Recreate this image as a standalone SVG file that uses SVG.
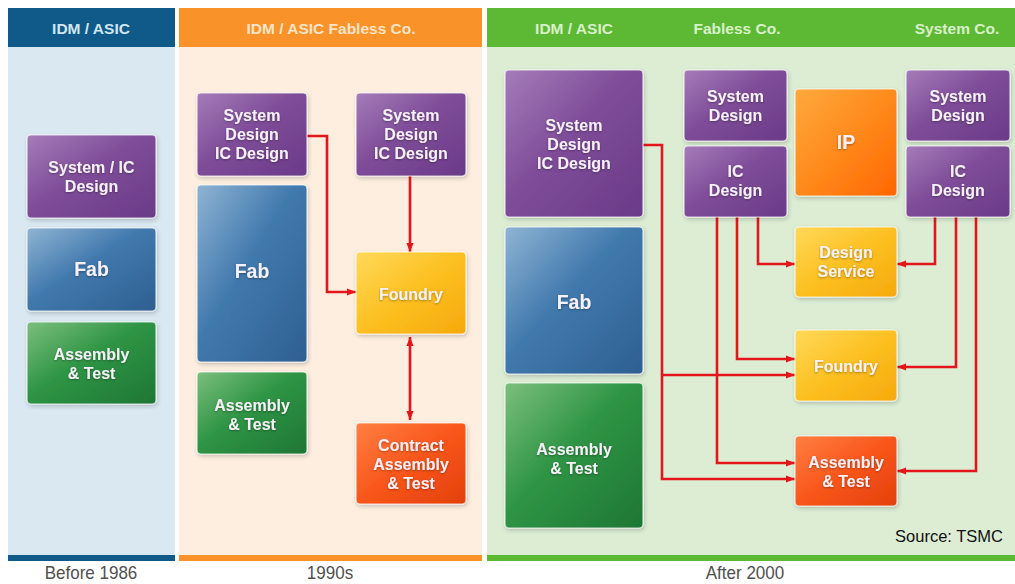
<svg xmlns="http://www.w3.org/2000/svg" width="1015" height="584" viewBox="0 0 1015 584">
  <defs>
    <linearGradient id="gPurple" x1="0" y1="0" x2="1" y2="1">
      <stop offset="0" stop-color="#a57cb9"/>
      <stop offset="0.45" stop-color="#7f4d99"/>
      <stop offset="1" stop-color="#6a3a88"/>
    </linearGradient>
    <linearGradient id="gBlue" x1="0" y1="0" x2="1" y2="1">
      <stop offset="0" stop-color="#8fb4d4"/>
      <stop offset="0.45" stop-color="#4179ad"/>
      <stop offset="1" stop-color="#2e5f91"/>
    </linearGradient>
    <linearGradient id="gGreen" x1="0" y1="0" x2="1" y2="1">
      <stop offset="0" stop-color="#7cbf7d"/>
      <stop offset="0.45" stop-color="#2f9545"/>
      <stop offset="1" stop-color="#1e7634"/>
    </linearGradient>
    <linearGradient id="gYellow" x1="0" y1="0" x2="1" y2="1">
      <stop offset="0" stop-color="#ffd95a"/>
      <stop offset="0.5" stop-color="#fcc021"/>
      <stop offset="1" stop-color="#f6a90c"/>
    </linearGradient>
    <linearGradient id="gOrange" x1="0" y1="0" x2="1" y2="1">
      <stop offset="0" stop-color="#ffa93e"/>
      <stop offset="0.5" stop-color="#ff8a1c"/>
      <stop offset="1" stop-color="#ff6600"/>
    </linearGradient>
    <linearGradient id="gRed" x1="0" y1="0" x2="1" y2="1">
      <stop offset="0" stop-color="#ff7f42"/>
      <stop offset="0.5" stop-color="#f9561b"/>
      <stop offset="1" stop-color="#e2400b"/>
    </linearGradient>
    <filter id="boxShadow" x="-10%" y="-10%" width="125%" height="125%">
      <feDropShadow dx="1" dy="2" stdDeviation="2" flood-color="#000" flood-opacity="0.2"/>
    </filter>
    <filter id="txtShadow" x="-10%" y="-30%" width="120%" height="160%">
      <feDropShadow dx="0" dy="1" stdDeviation="1.2" flood-color="#000" flood-opacity="0.35"/>
    </filter>
    <marker id="ah" viewBox="0 0 10 10" refX="10" refY="5" markerWidth="9" markerHeight="9" markerUnits="userSpaceOnUse" orient="auto-start-reverse">
      <path d="M0,1 L10,5 L0,9 z" fill="#e3161b"/>
    </marker>
  </defs>
  <style>
    .box { stroke: #ffffff; stroke-opacity: 0.75; stroke-width: 1.2; filter: url(#boxShadow); }
    .purple { fill: url(#gPurple); }
    .blue { fill: url(#gBlue); }
    .green { fill: url(#gGreen); }
    .yellow { fill: url(#gYellow); }
    .orange { fill: url(#gOrange); }
    .red { fill: url(#gRed); }
    .lbl { font-family: "Liberation Sans", Arial, sans-serif; font-weight: bold; font-size: 16px; fill: #f6f1f8; text-anchor: middle; filter: url(#txtShadow); }
    .big { font-size: 19.5px; }
    .hdr { font-family: "Liberation Sans", Arial, sans-serif; font-weight: bold; font-size: 15.5px; text-anchor: middle; }
    .era { font-family: "Liberation Sans Narrow", "Liberation Sans", Arial, sans-serif; font-size: 17px; fill: #505050; text-anchor: middle; }
    .wire { fill: none; stroke: #e3161b; stroke-width: 2.6; }
  </style>

  <rect width="1015" height="584" fill="#ffffff"/>

  <!-- column panels -->
  <g id="panels">
    <rect x="8" y="47" width="167" height="508" fill="#d9e8f1"/>
    <rect x="179" y="47" width="303" height="508" fill="#fdeedf"/>
    <rect x="487" y="47" width="528" height="508" fill="#dcedd4"/>
    <rect x="8" y="8" width="167" height="39" fill="#0f5a88"/>
    <rect x="179" y="8" width="303" height="39" fill="#f89229"/>
    <rect x="487" y="8" width="528" height="39" fill="#5db933"/>
    <rect x="8" y="555" width="167" height="6" fill="#0f5a88"/>
    <rect x="179" y="555" width="303" height="6" fill="#f89229"/>
    <rect x="487" y="555" width="528" height="6" fill="#5db933"/>
  </g>

  <g id="headers">
    <text class="hdr" x="91" y="34" fill="#d3e5f0">IDM / ASIC</text>
    <text class="hdr" x="331" y="34" fill="#fde4c8">IDM / ASIC Fabless Co.</text>
    <text class="hdr" x="574" y="34" fill="#d8f0c9">IDM / ASIC</text>
    <text class="hdr" x="737" y="34" fill="#d8f0c9">Fabless Co.</text>
    <text class="hdr" x="957" y="34" fill="#d8f0c9">System Co.</text>
  </g>

  <g id="eras">
    <text class="era" x="91" y="579" transform="translate(91 579) scale(1 1.1) translate(-91 -579)">Before 1986</text>
    <text class="era" x="330" y="579" transform="translate(330 579) scale(1 1.1) translate(-330 -579)">1990s</text>
    <text class="era" x="745" y="579" transform="translate(745 579) scale(1 1.1) translate(-745 -579)">After 2000</text>
  </g>

  <!-- connectors -->
  <g id="connectors">
    <path class="wire" d="M307,136 H327 V292 H356" marker-end="url(#ah)"/>
    <path class="wire" d="M410,176 V252" marker-end="url(#ah)"/>
    <path class="wire" d="M410,337 V420" marker-start="url(#ah)" marker-end="url(#ah)"/>

    <path class="wire" d="M643,145 H662 V479 H795" marker-end="url(#ah)"/>
    <path class="wire" d="M662,375 H795" marker-end="url(#ah)"/>

    <path class="wire" d="M758,217 V264 H795" marker-end="url(#ah)"/>
    <path class="wire" d="M737,217 V359 H795" marker-end="url(#ah)"/>
    <path class="wire" d="M717,217 V463 H795" marker-end="url(#ah)"/>

    <path class="wire" d="M935,217 V264 H897" marker-end="url(#ah)"/>
    <path class="wire" d="M956,217 V367 H897" marker-end="url(#ah)"/>
    <path class="wire" d="M976,217 V471 H897" marker-end="url(#ah)"/>
  </g>

  <!-- before 1986 -->
  <g id="c1-design">
    <rect class="box purple" x="27" y="135" width="129" height="83" rx="4"/>
    <text class="lbl" x="91.5" y="173">System / IC</text>
    <text class="lbl" x="91.5" y="192">Design</text>
  </g>
  <g id="c1-fab">
    <rect class="box blue" x="27" y="228" width="129" height="83" rx="4"/>
    <text class="lbl big" x="91.5" y="276">Fab</text>
  </g>
  <g id="c1-assembly">
    <rect class="box green" x="27" y="322" width="129" height="82" rx="4"/>
    <text class="lbl" x="91.5" y="360">Assembly</text>
    <text class="lbl" x="91.5" y="379">&amp; Test</text>
  </g>

  <!-- 1990s -->
  <g id="c2-design-idm">
    <rect class="box purple" x="197" y="93" width="110" height="83" rx="4"/>
    <text class="lbl" x="252" y="121">System</text>
    <text class="lbl" x="252" y="140">Design</text>
    <text class="lbl" x="252" y="159">IC Design</text>
  </g>
  <g id="c2-fab">
    <rect class="box blue" x="197" y="185" width="110" height="177" rx="4"/>
    <text class="lbl big" x="252" y="278">Fab</text>
  </g>
  <g id="c2-assembly">
    <rect class="box green" x="197" y="372" width="110" height="82" rx="4"/>
    <text class="lbl" x="252" y="411">Assembly</text>
    <text class="lbl" x="252" y="430">&amp; Test</text>
  </g>
  <g id="c2-design-fabless">
    <rect class="box purple" x="356" y="93" width="110" height="83" rx="4"/>
    <text class="lbl" x="411" y="121">System</text>
    <text class="lbl" x="411" y="140">Design</text>
    <text class="lbl" x="411" y="159">IC Design</text>
  </g>
  <g id="c2-foundry">
    <rect class="box yellow" x="356" y="252" width="110" height="82" rx="4"/>
    <text class="lbl" x="411" y="300">Foundry</text>
  </g>
  <g id="c2-contract">
    <rect class="box red" x="356" y="423" width="110" height="81" rx="4"/>
    <text class="lbl" x="411" y="451">Contract</text>
    <text class="lbl" x="411" y="470">Assembly</text>
    <text class="lbl" x="411" y="489">&amp; Test</text>
  </g>

  <!-- after 2000 -->
  <g id="c3-design-idm">
    <rect class="box purple" x="505" y="70" width="138" height="147" rx="4"/>
    <text class="lbl" x="574" y="131">System</text>
    <text class="lbl" x="574" y="150">Design</text>
    <text class="lbl" x="574" y="169">IC Design</text>
  </g>
  <g id="c3-fab">
    <rect class="box blue" x="505" y="227" width="138" height="147" rx="4"/>
    <text class="lbl big" x="574" y="309">Fab</text>
  </g>
  <g id="c3-assembly-idm">
    <rect class="box green" x="505" y="383" width="138" height="145" rx="4"/>
    <text class="lbl" x="574" y="455">Assembly</text>
    <text class="lbl" x="574" y="474">&amp; Test</text>
  </g>
  <g id="c3-fabless-system">
    <rect class="box purple" x="684" y="70" width="103" height="71" rx="4"/>
    <text class="lbl" x="735.5" y="102">System</text>
    <text class="lbl" x="735.5" y="121">Design</text>
  </g>
  <g id="c3-fabless-ic">
    <rect class="box purple" x="684" y="146" width="103" height="71" rx="4"/>
    <text class="lbl" x="735.5" y="177">IC</text>
    <text class="lbl" x="735.5" y="196">Design</text>
  </g>
  <g id="c3-ip">
    <rect class="box orange" x="795" y="89" width="102" height="107" rx="4"/>
    <text class="lbl big" x="846" y="149">IP</text>
  </g>
  <g id="c3-system-design">
    <rect class="box purple" x="906" y="70" width="104" height="71" rx="4"/>
    <text class="lbl" x="958" y="102">System</text>
    <text class="lbl" x="958" y="121">Design</text>
  </g>
  <g id="c3-system-ic">
    <rect class="box purple" x="906" y="146" width="104" height="71" rx="4"/>
    <text class="lbl" x="958" y="177">IC</text>
    <text class="lbl" x="958" y="196">Design</text>
  </g>
  <g id="c3-design-service">
    <rect class="box yellow" x="795" y="227" width="102" height="70" rx="4"/>
    <text class="lbl" x="846" y="258">Design</text>
    <text class="lbl" x="846" y="277">Service</text>
  </g>
  <g id="c3-foundry">
    <rect class="box yellow" x="795" y="330" width="102" height="71" rx="4"/>
    <text class="lbl" x="846" y="372">Foundry</text>
  </g>
  <g id="c3-assembly">
    <rect class="box red" x="795" y="436" width="102" height="70" rx="4"/>
    <text class="lbl" x="846" y="468">Assembly</text>
    <text class="lbl" x="846" y="487">&amp; Test</text>
  </g>

  <text x="1003" y="542" font-family="Liberation Sans, Arial, sans-serif" font-size="16.5" fill="#111111" text-anchor="end">Source: TSMC</text>
</svg>
